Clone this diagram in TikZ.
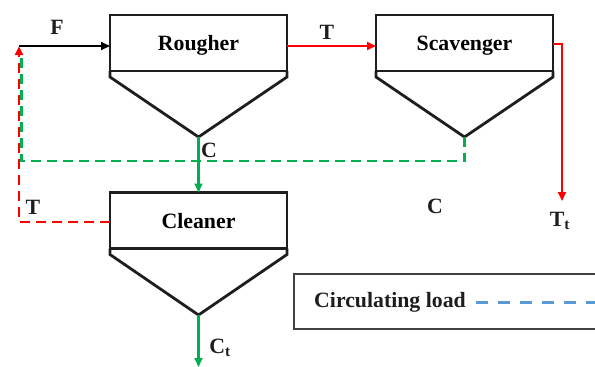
\documentclass[tikz,border=0pt]{standalone}
\usepackage{fontspec}
\setmainfont{Liberation Serif}
\usetikzlibrary{arrows.meta,calc}
\definecolor{flred}{RGB}{255,0,0}
\definecolor{flgreen}{RGB}{0,176,80}
\definecolor{flblue}{RGB}{91,155,213}
\definecolor{ink}{RGB}{30,30,30}
\newcommand\flowfont{\bfseries\fontsize{21.8}{25}\selectfont}

\begin{document}
\begin{tikzpicture}[x=1pt,y=-1pt,
  unitbox/.style={draw=ink, line width=2.8pt, outer sep=0pt, inner sep=0pt,
    minimum width=177pt, minimum height=56pt, text depth=0pt, font=\flowfont},
  hull/.style={draw=ink, line width=2.8pt, line join=miter},
  tip/.style={-{Triangle[length=9pt,width=8pt]}},
  flow/.style={line width=2.1pt, tip},
  recyc/.style={line width=2.6pt, dash pattern=on 10pt off 6pt},
  tag/.style={font=\flowfont, inner sep=0pt, text=ink},
  legbox/.style={draw=ink!85, line width=1.3pt, outer sep=0pt,
    minimum width=306pt, minimum height=55pt}
]
\useasboundingbox (0,0) rectangle (595,367);

% flotation cells
\node[unitbox] (rough) at (198.5,43) {Rougher};
\node[unitbox] (scav)  at (464.5,43) {Scavenger};
\node[unitbox] (clean) at (198.5,220.5) {Cleaner};

% conical bottoms
\coordinate (rtip) at (198.5,137);
\coordinate (stip) at (464.5,137);
\coordinate (ctip) at (198.5,315);
\draw[hull] (rough.south west) -- ++(0,6) -- (rtip) -- ($(rough.south east)+(0,6)$) -- (rough.south east);
\draw[hull] (scav.south west) -- ++(0,6) -- (stip) -- ($(scav.south east)+(0,6)$) -- (scav.south east);
\draw[hull] (clean.south west) -- ++(0,6) -- (ctip) -- ($(clean.south east)+(0,6)$) -- (clean.south east);

% stream end points
\coordinate (fin)  at (19,46);
\coordinate (gtop) at (21.5,53);
\coordinate (ttail) at (562,201);
\coordinate (cend) at (198.5,367);

% recycle streams
\draw[recyc, flgreen] (stip) -- ++(0,24) -| (gtop);
\draw[recyc, flred, tip] ([yshift=-1.5pt]clean.west) -| (fin);

% main streams
\draw[flow, black] (fin) -- ([yshift=-3pt]rough.west);
\draw[flow, flred] ([yshift=-3pt]rough.east) -- ([yshift=-3pt]scav.west);
\draw[flow, flred] ([yshift=-1pt]scav.east) -| (ttail);
\draw[flow, flgreen] (rtip) -- (clean.north);
\draw[flow, flgreen] (ctip) -- (cend);

% stream labels
\node[tag] (lf)  at (57,27.5) {F};
\node[tag] (lt)  at (327,32.5) {T};
\node[tag] (lc)  at (209,150) {C};
\node[tag] (lc2) at (435,206) {C};
\node[tag] (ltt) at (560,221) {T\textsubscript{t}};
\node[tag] (lt2) at (33,207.5) {T};
\node[tag] (lct) at (220,348) {C\textsubscript{t}};

% legend
\node[legbox] (leg) at (447,301.5) {};
\node[tag, anchor=west] (legtxt) at (314,302) {Circulating load};
\coordinate (legend end) at (597,302);
\draw[flblue, line width=3pt, dash pattern=on 12pt off 10pt] ([xshift=10pt]legtxt.east) -- (legend end);
\end{tikzpicture}
\end{document}
